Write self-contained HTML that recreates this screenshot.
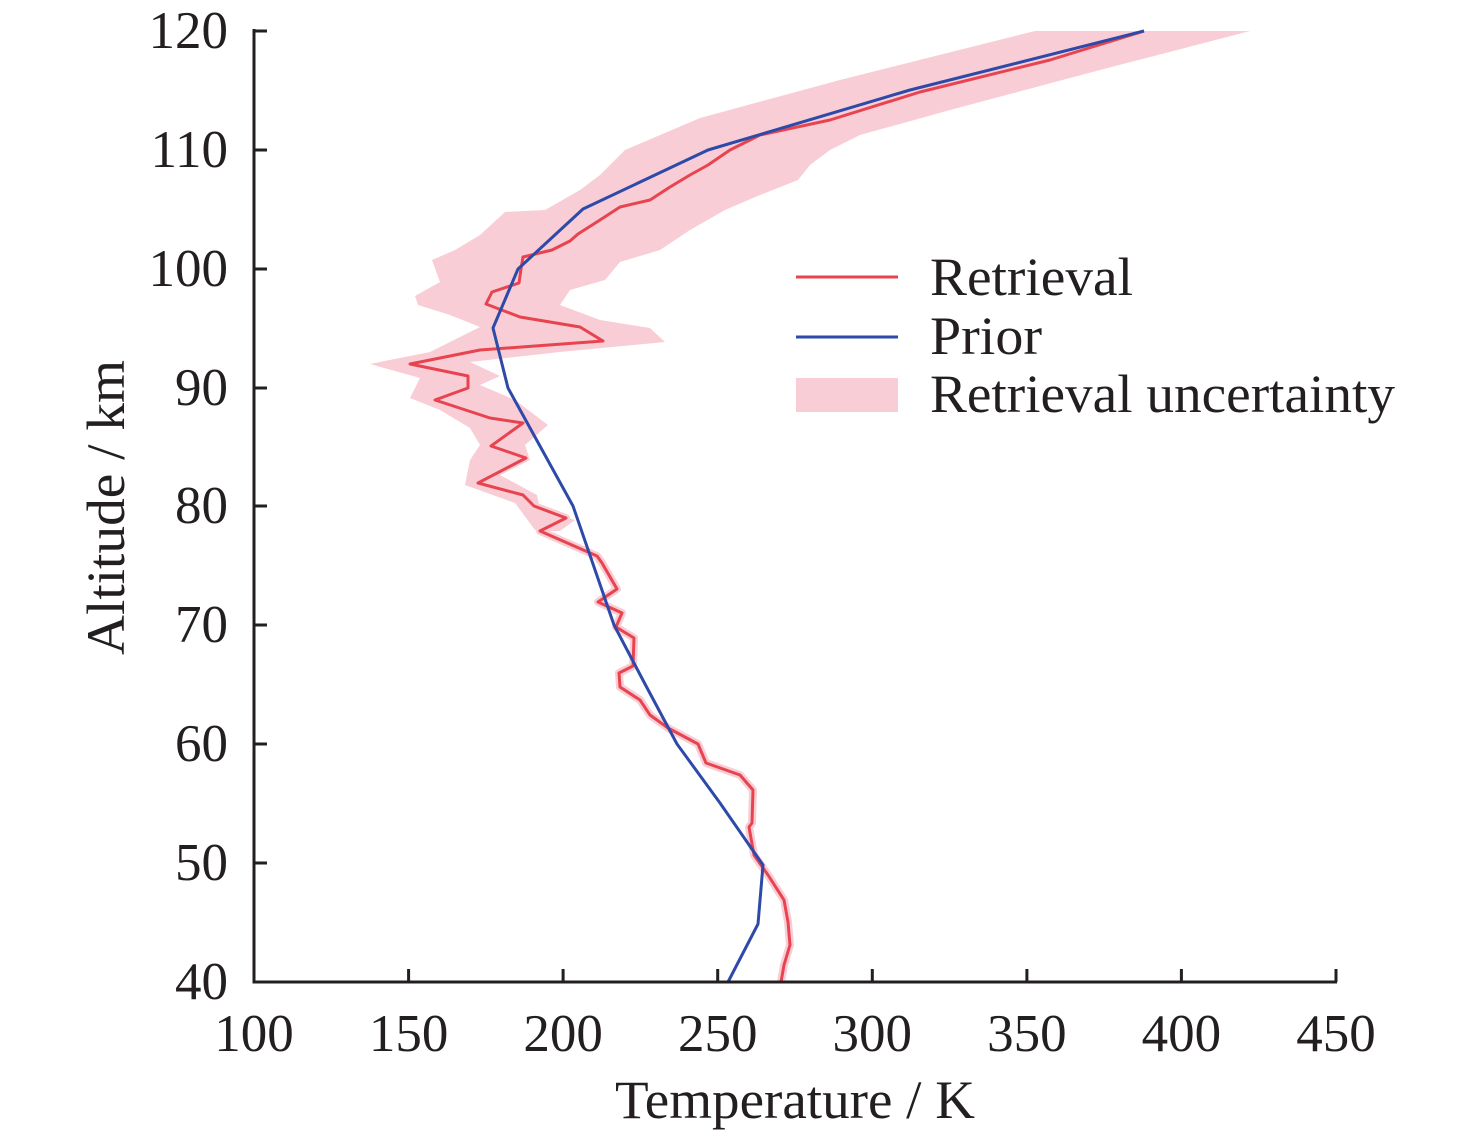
<!DOCTYPE html>
<html><head><meta charset="utf-8"><style>html,body{margin:0;padding:0;background:#fff}svg{display:block}</style></head><body>
<svg width="1476" height="1136" viewBox="0 0 1476 1136" xmlns="http://www.w3.org/2000/svg" font-family="Liberation Serif, serif" fill="#231f20">
<polygon fill="#f8cdd6" stroke="none" points="1250,31 1100,70 950,110 860,135 830,150 810,165 798,180 760,195 725,210 690,230 660,250 620,262 605,280 570,290 560,305 600,320 650,328 665,342 560,352 470,362 500,376 480,385 515,400 548,425 525,445 530,460 500,475 537,495 540,510 575,520 560,531 540,531 535,530 515,503 465,485 470,460 480,445 470,428 440,410 410,398 420,378 370,364 430,352 480,327 450,315 418,305 415,296 440,282 432,260 455,250 480,235 505,212 545,210 580,190 600,175 625,150 700,118 840,80 1035,31"/>
<polyline fill="none" stroke="#f8cdd6" stroke-width="8" stroke-linejoin="round" points="523,495 534,506 566,518 540,531 597,556 602,563 617,589 598,602 622,613 616,627 634,638 633,666 619,673 620,687 640,700 650,715 668,728 698,744 706,763 740,775 753,790 752,823 749,827 754,855 768,875 784,900 788,922 790,945 784,965 781,982"/>
<polyline fill="none" stroke="#e8444f" stroke-width="3" stroke-linejoin="round" points="1144,31 1050,60 920,92 830,120 760,135 730,150 708,165 690,175 670,187 650,200 620,207 600,220 578,234 570,241 552,250 523,257 521,269 519,283 492,292 486,304 520,317 580,327 603,341 480,350 410,364 468,376 468,388 435,400 490,418 523,423 491,446 526,458 478,483 523,495 534,506 566,518 540,531 597,556 602,563 617,589 598,602 622,613 616,627 634,638 633,666 619,673 620,687 640,700 650,715 668,728 698,744 706,763 740,775 753,790 752,823 749,827 754,855 768,875 784,900 788,922 790,945 784,965 781,982"/>
<polyline fill="none" stroke="#2e4aa8" stroke-width="3" stroke-linejoin="round" points="1144,31 910,90 708,150 583,209 518,269 493,328 508,388 573,506 614,625 645,684 677,744 720,803 763,865 758,924 728,982"/>
<g stroke="#231f20" stroke-width="3" fill="none">
<path d="M254,29 V983.5 M252.5,982 H1337"/>
<path d="M254,31 h13 M254,150 h13 M254,269 h13 M254,388 h13 M254,506 h13 M254,625 h13 M254,744 h13 M254,863 h13"/>
<path d="M408.6,982 v-13 M563.1,982 v-13 M717.7,982 v-13 M872.3,982 v-13 M1026.9,982 v-13 M1181.4,982 v-13 M1336,982 v-13"/>
</g>
<g font-size="53" text-anchor="end">
<text x="228" y="48">120</text><text x="228" y="167">110</text><text x="228" y="286">100</text><text x="228" y="405">90</text><text x="228" y="523">80</text><text x="228" y="642">70</text><text x="228" y="761">60</text><text x="228" y="880">50</text><text x="228" y="999">40</text>
</g>
<g font-size="53" text-anchor="middle">
<text x="254" y="1051">100</text><text x="408.6" y="1051">150</text><text x="563.1" y="1051">200</text><text x="717.7" y="1051">250</text><text x="872.3" y="1051">300</text><text x="1026.9" y="1051">350</text><text x="1181.4" y="1051">400</text><text x="1336" y="1051">450</text>
</g>
<text x="615" y="1118" font-size="54" textLength="360" lengthAdjust="spacingAndGlyphs">Temperature / K</text>
<text transform="translate(124,655) rotate(-90)" font-size="54" textLength="295" lengthAdjust="spacingAndGlyphs">Altitude / km</text>
<line x1="796" y1="277" x2="898" y2="277" stroke="#e8444f" stroke-width="3"/>
<line x1="796" y1="337" x2="898" y2="337" stroke="#2e4aa8" stroke-width="3"/>
<rect x="796" y="378" width="102" height="34" fill="#f8cdd6"/>
<g font-size="54">
<text x="930" y="295" textLength="203" lengthAdjust="spacingAndGlyphs">Retrieval</text><text x="930" y="354" textLength="112" lengthAdjust="spacingAndGlyphs">Prior</text><text x="930" y="412" textLength="465" lengthAdjust="spacingAndGlyphs">Retrieval uncertainty</text>
</g>
</svg>
</body></html>
